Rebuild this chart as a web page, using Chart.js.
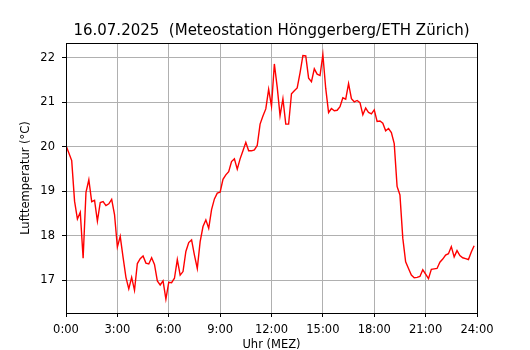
<!DOCTYPE html>
<html>
<head>
<meta charset="utf-8">
<script src="https://cdn.jsdelivr.net/npm/chart.js@4/dist/chart.umd.min.js"></script>
<style>
  html, body { margin: 0; padding: 0; background: #fff; }
  #wrap { width: 530px; height: 350px; position: relative; }
</style>
</head>
<body>
<div id="wrap"><canvas id="c" width="530" height="350"></canvas></div>
<script>
// ---- data (10-minute readings, 16.07.2025) ----
const chartTitle = '16.07.2025  (Meteostation Hönggerberg/ETH Zürich)';
const yLabel = 'Lufttemperatur (°C)';
const xLabel = 'Uhr (MEZ)';
const stepMinutes = 10;
const temperature = [
  20.03, 19.86, 19.69, 18.78, 18.38, 18.53, 17.50, 18.98, 19.26, 18.77,
  18.80, 18.33, 18.75, 18.77, 18.68, 18.72, 18.82, 18.48, 17.75, 17.99,
  17.52, 17.07, 16.81, 17.07, 16.78, 17.38, 17.49, 17.55, 17.39, 17.37,
  17.51, 17.36, 16.99, 16.90, 16.99, 16.58, 16.96, 16.95, 17.05, 17.47,
  17.12, 17.20, 17.65, 17.85, 17.91, 17.57, 17.27, 17.87, 18.21, 18.36,
  18.17, 18.59, 18.83, 18.96, 18.98, 19.27, 19.37, 19.44, 19.67, 19.73,
  19.50, 19.73, 19.91, 20.10, 19.91, 19.91, 19.93, 20.03, 20.51, 20.69,
  20.85, 21.29, 20.91, 21.86, 21.34, 20.70, 21.08, 20.51, 20.51, 21.19,
  21.26, 21.32, 21.66, 22.05, 22.04, 21.54, 21.46, 21.75, 21.63, 21.60,
  22.07, 21.31, 20.77, 20.86, 20.81, 20.82, 20.90, 21.10, 21.07, 21.42,
  21.08, 21.01, 21.04, 20.99, 20.72, 20.87, 20.77, 20.74, 20.83, 20.57,
  20.58, 20.53, 20.36, 20.41, 20.32, 20.07, 19.11, 18.92, 17.95, 17.42,
  17.27, 17.12, 17.06, 17.07, 17.09, 17.24, 17.14, 17.04, 17.25, 17.26,
  17.27, 17.41, 17.48, 17.57, 17.60, 17.76, 17.53, 17.67, 17.56, 17.51,
  17.49, 17.47, 17.64, 17.78
];
const xTickMinutes = [0, 180, 360, 540, 720, 900, 1080, 1260, 1440];
const yTicks = [17, 18, 19, 20, 21, 22];
const yMin = 16.27, yMax = 22.33;

const points = temperature.map((v, i) => ({ x: i * stepMinutes, y: v }));
const fmtTime = m => Math.floor(m / 60) + ':' + String(m % 60).padStart(2, '0');

const FONT = 'DejaVu Sans';

const framePlugin = {
  id: 'frame',
  afterDraw(chart) {
    const { ctx, chartArea: a } = chart;
    ctx.save();
    ctx.strokeStyle = '#000';
    ctx.lineWidth = 1;
    ctx.strokeRect(Math.round(a.left) + 0.5, Math.round(a.top) + 0.5,
                   Math.round(a.right - a.left), Math.round(a.bottom - a.top));
    ctx.fillStyle = '#000';
    ctx.font = '15px "' + FONT + '"';
    ctx.textAlign = 'center';
    ctx.textBaseline = 'alphabetic';
    ctx.fillText(chartTitle, (a.left + a.right) / 2, 35);
    ctx.restore();
  }
};

new Chart(document.getElementById('c'), {
  type: 'line',
  data: {
    datasets: [{
      data: points,
      borderColor: '#ff0000',
      borderWidth: 1.4,
      pointRadius: 0,
      tension: 0,
      fill: false
    }]
  },
  options: {
    responsive: false,
    animation: false,
    devicePixelRatio: 1,
    layout: { padding: { top: 43, right: 53, left: 0, bottom: 0 } },
    plugins: { legend: { display: false }, title: { display: false }, tooltip: { enabled: false } },
    scales: {
      x: {
        type: 'linear',
        min: 0, max: 1440,
        afterFit: s => { s.height = 37; },
        afterBuildTicks: s => { s.ticks = xTickMinutes.map(v => ({ value: v })); },
        ticks: {
          autoSkip: false, maxRotation: 0, minRotation: 0,
          padding: 6, color: '#000',
          font: { family: FONT, size: 11.5 },
          callback: v => fmtTime(v)
        },
        grid: { color: '#b0b0b0', lineWidth: 1, drawTicks: true, tickLength: 4, tickColor: '#000', tickWidth: 1 },
        border: { display: false },
        title: { display: true, text: xLabel, color: '#000', font: { family: FONT, size: 11.5, lineHeight: 0.8 }, padding: { top: 0, bottom: 0 } }
      },
      y: {
        type: 'linear',
        min: yMin, max: yMax,
        afterFit: s => { s.width = 66; },
        afterBuildTicks: s => { s.ticks = yTicks.map(v => ({ value: v })); },
        ticks: { padding: 7, color: '#000', font: { family: FONT, size: 11.5 } },
        grid: { color: '#b0b0b0', lineWidth: 1, drawTicks: true, tickLength: 4, tickColor: '#000', tickWidth: 1 },
        border: { display: false },
        title: { display: true, text: yLabel, color: '#000', font: { family: FONT, size: 11.5, lineHeight: 1.2 }, padding: { top: 19, bottom: 0 } }
      }
    }
  },
  plugins: [framePlugin]
});
</script>
</body>
</html>
